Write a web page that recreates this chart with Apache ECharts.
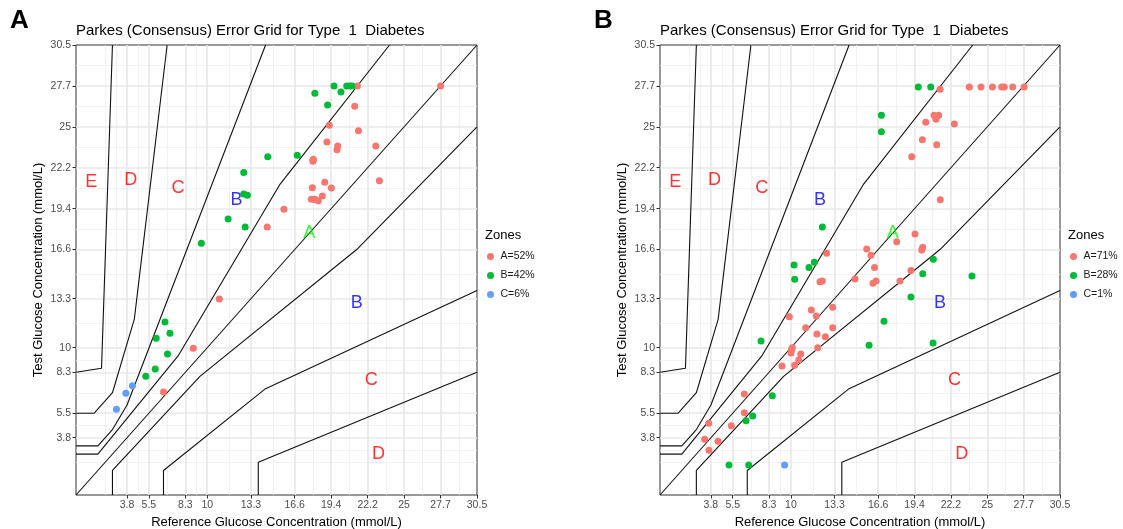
<!DOCTYPE html>
<html>
<head>
<meta charset="utf-8">
<title>Parkes (Consensus) Error Grid</title>
<script src="https://cdn.jsdelivr.net/npm/echarts@6/dist/echarts.min.js"></script>
<style>
html, body { margin: 0; padding: 0; background: #fff; }
#chart { width: 1123px; height: 529px; }
</style>
</head>
<body>
<div id="chart"></div>
<script>
"use strict";
var MG = 18; // mg/dL per mmol/L, the grid is defined in mg/dL

// axis breaks (mg/dL) and their mmol/L labels
var tickValues = [70, 100, 150, 180, 240, 300, 350, 400, 450, 500, 550];
var tickLabels = ['3.8', '5.5', '8.3', '10', '13.3', '16.6', '19.4', '22.2', '25', '27.7', '30.5'];
var minorValues = [40, 55, 85, 125, 165, 210, 270, 325, 375, 425, 475, 525];

// Parkes type 1 zone limits (mg/dL)
var limitE = [[0, 150], [35, 155], [50, 550]];
var limitDUpper = [[0, 100], [25, 100], [50, 125], [80, 215], [125, 550]];
var limitDLower = [[250, 0], [250, 40], [550, 150]];
var limitCUpper = [[0, 60], [30, 60], [50, 80], [70, 110], [260, 550]];
var limitCLower = [[120, 0], [120, 30], [260, 130], [550, 250]];
var limitBUpper = [[0, 50], [30, 50], [140, 170], [280, 380], [430, 550]];
var limitBLower = [[50, 0], [50, 30], [170, 145], [385, 300], [550, 450]];
var identityLine = [[0, 0], [550, 550]];

// zone letters (mg/dL)
var zoneLetters = ['A', 'B', 'B', 'C', 'C', 'D', 'D', 'E'];
var zoneLetterX = [320, 220, 385, 140, 405, 415, 75, 21];
var zoneLetterY = [320, 360, 235, 375, 140, 50, 385, 383];
var zoneLetterColor = ['#00ff00', '#0000ff', '#0000ff', '#ff0000', '#ff0000', '#ff0000', '#ff0000', '#ff0000'];

// panel A points, [reference, test] in mmol/L
var panelAZoneA = [[15.84, 19.40], [14.57, 18.20], [21.44, 27.78], [27.78, 27.78], [21.24, 26.39],
  [19.30, 25.10], [21.52, 24.74], [19.12, 23.97], [19.94, 23.70], [19.89, 23.45], [22.84, 23.70],
  [18.08, 22.79], [18.05, 22.66], [23.12, 21.34], [18.95, 21.23], [18.01, 20.87], [19.46, 20.85],
  [18.77, 20.30], [17.93, 20.08], [18.20, 20.08], [18.46, 19.98], [10.92, 13.31], [8.94, 9.96],
  [6.67, 6.99], [18.06, 22.73], [18.18, 20.06]];
var panelAZoneB = [[14.61, 22.97], [16.86, 23.07], [12.78, 21.89], [12.78, 20.44], [13.06, 20.35],
  [11.59, 18.74], [12.89, 18.20], [9.55, 17.09], [19.66, 27.78], [20.63, 27.78], [20.86, 27.78],
  [21.03, 27.78], [18.20, 27.28], [20.19, 27.36], [19.17, 26.48], [6.78, 11.75], [7.16, 10.98],
  [6.11, 10.64], [6.97, 9.57], [6.04, 8.56], [5.32, 8.06]];
var panelAZoneC = [[4.30, 7.42], [3.80, 6.91], [3.08, 5.82]];
var panelALegend = ['A=52%', 'B=42%', 'C=6%'];

// panel B points
var panelBZoneA = [[21.39, 27.55], [23.63, 27.70], [24.52, 27.70], [25.39, 27.70], [26.10, 27.70],
  [26.30, 27.70], [26.94, 27.70], [27.81, 27.70], [20.93, 25.78], [21.29, 25.78], [21.08, 25.51],
  [20.30, 25.31], [22.48, 25.19], [20.04, 24.13], [21.14, 23.79], [19.23, 22.97], [21.41, 20.05],
  [19.48, 17.72], [18.08, 17.20], [15.79, 16.70], [16.12, 16.28], [20.07, 16.82], [19.99, 16.64],
  [16.39, 15.45], [19.17, 15.24], [12.73, 16.41], [16.50, 14.53], [16.27, 14.37], [18.33, 14.53],
  [12.22, 14.48], [12.40, 14.53], [14.90, 14.67], [13.19, 12.75], [11.56, 12.56], [11.94, 12.15],
  [9.88, 12.11], [11.13, 11.36], [13.19, 11.36], [11.99, 10.93], [12.63, 10.75], [10.11, 10.00],
  [10.03, 9.85], [10.01, 9.64], [12.05, 10.00], [10.75, 9.57], [10.60, 9.17], [10.29, 8.81],
  [9.32, 8.76], [6.44, 6.86], [6.44, 5.59], [5.45, 4.71], [3.72, 4.87], [3.41, 3.78], [4.43, 3.65],
  [3.74, 3.04]];
var panelBZoneB = [[19.73, 27.70], [20.68, 27.70], [16.91, 25.78], [16.91, 24.67], [20.88, 16.00],
  [12.40, 18.20], [10.24, 15.62], [11.38, 15.45], [11.79, 15.81], [10.29, 14.65], [7.72, 10.46],
  [8.58, 6.74], [7.08, 5.36], [6.57, 5.05], [5.27, 2.04], [6.78, 2.04], [15.97, 10.16],
  [20.07, 15.03], [23.83, 14.87], [19.17, 13.44], [17.11, 11.79], [20.86, 10.32]];
var panelBZoneC = [[9.52, 2.04]];
var panelBLegend = ['A=71%', 'B=28%', 'C=1%'];

var zoneColors = ['#F8766D', '#00BA38', '#619CFF'];
var FONT = "'Liberation Sans', Arial, sans-serif";
var AXIS_MAX = 550 / MG;

function toMmol(points) {
  return points.map(function (p) { return [p[0] / MG, p[1] / MG]; });
}

function tickFormatter(value) {
  var best = 0;
  for (var i = 1; i < tickValues.length; i++) {
    if (Math.abs(tickValues[i] / MG - value) < Math.abs(tickValues[best] / MG - value)) best = i;
  }
  return tickLabels[best];
}

function makeAxis(index, name, isY) {
  var ticks = tickValues.map(function (v) { return v / MG; });
  return {
    type: 'value', gridIndex: index, min: 0, max: AXIS_MAX,
    name: name, nameLocation: 'middle', nameGap: isY ? 31 : 19,
    nameTextStyle: { fontSize: 13, color: '#000', fontFamily: FONT },
    axisLine: { show: false },
    axisTick: { show: true, length: 3.5, customValues: ticks, lineStyle: { color: '#333', width: 1 } },
    axisLabel: { customValues: ticks, formatter: tickFormatter, fontSize: 10.5, color: '#4d4d4d', fontFamily: FONT, margin: 5 },
    splitLine: { show: false }
  };
}

// grid lines are drawn as mark lines on an empty series, kept under everything else
function gridSeries(index) {
  var lines = [];
  minorValues.forEach(function (v) {
    lines.push({ xAxis: v / MG, lineStyle: { width: 0.8, color: '#efefef', type: 'solid' } });
    lines.push({ yAxis: v / MG, lineStyle: { width: 0.8, color: '#efefef', type: 'solid' } });
  });
  tickValues.forEach(function (v) {
    if (v >= 550) return;
    lines.push({ xAxis: v / MG, lineStyle: { width: 1.6, color: '#e8e8e8', type: 'solid' } });
    lines.push({ yAxis: v / MG, lineStyle: { width: 1.6, color: '#e8e8e8', type: 'solid' } });
  });
  return {
    type: 'line', xAxisIndex: index, yAxisIndex: index, data: [], z: 1, silent: true,
    markLine: { silent: true, z: 1, zlevel: 0, symbol: 'none', label: { show: false }, animation: false,
      lineStyle: { type: 'solid' }, data: lines }
  };
}

function limitSeries(index, points) {
  return {
    type: 'line', xAxisIndex: index, yAxisIndex: index, data: toMmol(points), z: 6,
    symbol: 'none', silent: true, clip: true,
    lineStyle: { color: '#111', width: 1.1 }
  };
}

function zoneLetterSeries(index) {
  var data = zoneLetters.map(function (l, i) {
    return { name: l, value: [zoneLetterX[i] / MG, zoneLetterY[i] / MG], label: { color: zoneLetterColor[i] } };
  });
  return {
    type: 'scatter', xAxisIndex: index, yAxisIndex: index, data: data, z: 7,
    symbolSize: 0, silent: true,
    label: { show: true, position: 'inside', formatter: '{b}', fontSize: 18, fontFamily: FONT }
  };
}

function pointSeries(index, name, points, color) {
  return {
    type: 'scatter', name: name, xAxisIndex: index, yAxisIndex: index, data: points, z: 8,
    symbol: 'circle', symbolSize: 7, itemStyle: { color: color, opacity: 1 }
  };
}

var panels = [
  { left: 76, width: 401, letter: 'A', zones: [panelAZoneA, panelAZoneB, panelAZoneC], legend: panelALegend },
  { left: 660, width: 400, letter: 'B', zones: [panelBZoneA, panelBZoneB, panelBZoneC], legend: panelBLegend }
];

var option = {
  animation: false,
  backgroundColor: '#fff',
  grid: [], xAxis: [], yAxis: [], legend: [], series: [], graphic: []
};

panels.forEach(function (p, i) {
  option.grid.push({ left: p.left, top: 45, width: p.width, height: 450, show: true,
    outerBoundsMode: 'none', containLabel: false,
    borderColor: '#333', borderWidth: 1, backgroundColor: 'transparent' });
  option.xAxis.push(makeAxis(i, 'Reference Glucose Concentration (mmol/L)', false));
  option.yAxis.push(makeAxis(i, 'Test Glucose Concentration (mmol/L)', true));
  option.series.push(gridSeries(i));
  [limitE, limitDUpper, limitDLower, limitCUpper, limitCLower, limitBUpper, limitBLower, identityLine]
    .forEach(function (l) { option.series.push(limitSeries(i, l)); });
  option.series.push(zoneLetterSeries(i));
  p.zones.forEach(function (pts, z) {
    option.series.push(pointSeries(i, p.legend[z], pts, zoneColors[z]));
  });
  option.legend.push({
    data: p.legend, orient: 'vertical', left: p.left + p.width + 10, top: 251, padding: 0,
    itemWidth: 10, itemHeight: 7, itemGap: 8, icon: 'circle', selectedMode: false,
    textStyle: { fontSize: 10.5, color: '#1a1a1a', fontFamily: FONT }
  });
  option.graphic.push({
    type: 'text', left: p.left + p.width + 8, top: 229,
    style: { text: 'Zones', fontSize: 13, fill: '#000', fontFamily: FONT }
  });
  option.graphic.push({
    type: 'text', left: p.left, top: 23,
    style: { text: 'Parkes (Consensus) Error Grid for Type  1  Diabetes', fontSize: 15, fill: '#000', fontFamily: FONT }
  });
  option.graphic.push({
    type: 'text', left: p.left - 66, top: 8,
    style: { text: p.letter, fontSize: 26, fontWeight: 'bold', fill: '#000',
      fontFamily: "'Liberation Sans Narrow', 'Liberation Sans', Arial, sans-serif" }
  });
});

var myChart = echarts.init(document.getElementById('chart'));
myChart.setOption(option);
</script>
</body>
</html>
